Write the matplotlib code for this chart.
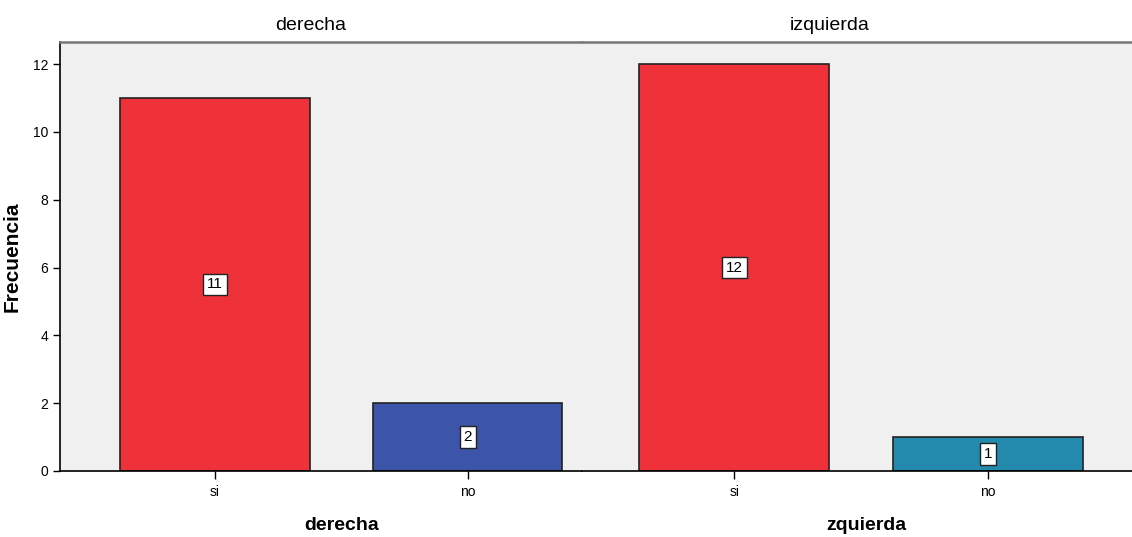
import matplotlib
matplotlib.use("Agg")
import matplotlib.pyplot as plt

plt.rcParams['font.family'] = ['Liberation Sans', 'DejaVu Sans']

panels = ['derecha', 'izquierda']
axis_labels = ['derecha', 'zquierda']
categories = ['si', 'no']
counts = {'derecha': [11, 2], 'izquierda': [12, 1]}
colors = {'derecha': ['#ef323a', '#3c55a8'], 'izquierda': ['#ef323a', '#238aad']}
yticks = [0, 2, 4, 6, 8, 10, 12]

W, H = 1132, 537
fig = plt.figure(figsize=(W / 100, H / 100), dpi=100)

bottom = (H - 471) / H
top = (H - 42) / H
ax_l = fig.add_axes([60 / W, bottom, (582 - 60) / W, top - bottom])
ax_r = fig.add_axes([582 / W, bottom, (1140 - 582) / W, top - bottom], sharey=ax_l)

xlims = [(-0.614, 1.453), (-0.6, 1.6)]
title_x = [311, 830]
label_x = [342, 866]

for i, (ax, name) in enumerate(zip([ax_l, ax_r], panels)):
    ax.set_facecolor('#f0f0f0')
    x = list(range(len(categories)))
    bars = ax.bar(x, counts[name], width=0.75, color=colors[name],
                  edgecolor='#222222', linewidth=1.2, zorder=2)
    for b, v in zip(bars, counts[name]):
        ax.text(b.get_x() + b.get_width() / 2, v / 2, str(v), ha='center', va='center',
                fontsize=11, zorder=3,
                bbox=dict(boxstyle='square,pad=0.25', facecolor='white',
                          edgecolor='#222222', linewidth=1))
    ax.set_xticks(x)
    ax.set_xticklabels(categories, fontsize=10)
    ax.set_xlim(*xlims[i])
    ax.set_ylim(0, 12.65)
    ax.spines['right'].set_visible(False)
    ax.spines['top'].set_color('#777777')
    ax.spines['top'].set_linewidth(1.8)
    ax.spines['bottom'].set_linewidth(1.2)
    ax.tick_params(axis='x', length=6, width=1, pad=4)
    fig.text(title_x[i] / W, 1 - 26 / H, name, ha='center', va='center', fontsize=14)
    fig.text(label_x[i] / W, 1 - 525 / H, axis_labels[i], ha='center', va='center',
             fontsize=14, fontweight='bold')

ax_l.set_yticks(yticks)
ax_l.tick_params(axis='y', labelsize=10, length=5, width=1)
ax_l.spines['left'].set_linewidth(1.2)
ax_l.set_ylabel('Frecuencia', fontsize=15, fontweight='bold', labelpad=8)
ax_r.spines['left'].set_visible(False)
ax_r.tick_params(axis='y', left=False, labelleft=False)

fig.savefig('out.png', dpi=100)
